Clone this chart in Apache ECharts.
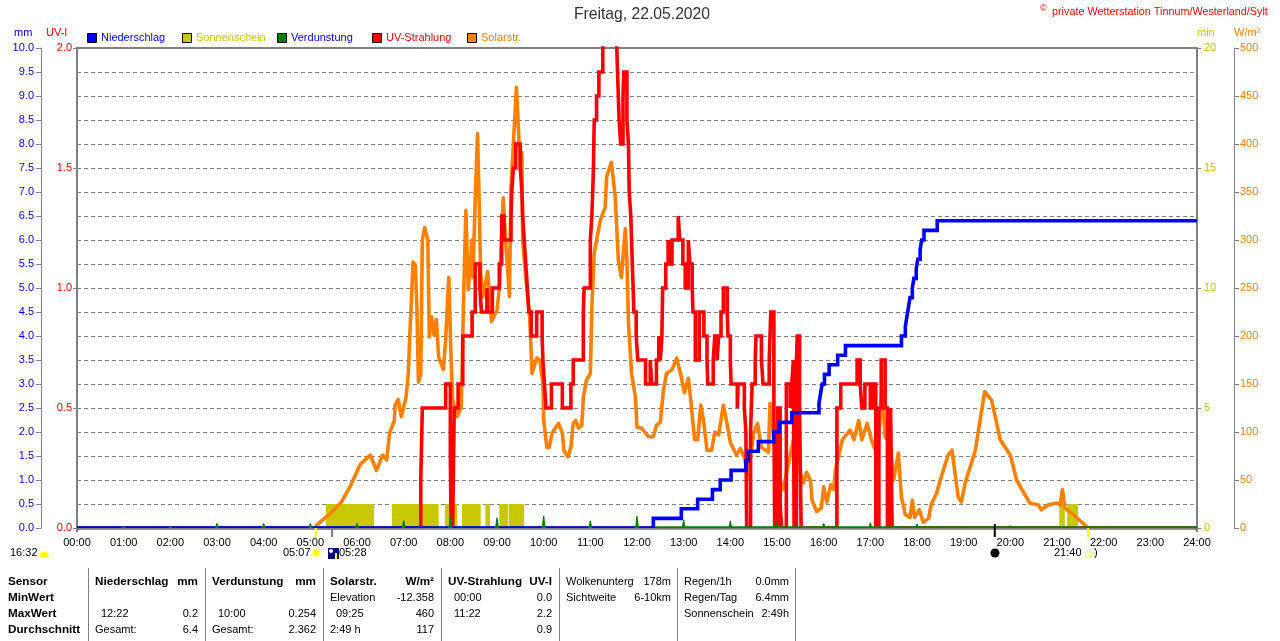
<!DOCTYPE html>
<html><head><meta charset="utf-8">
<style>html,body{margin:0;padding:0;background:#fff;overflow:hidden}#c{width:1280px;height:641px}</style>
<script src="https://cdn.jsdelivr.net/npm/echarts@6/dist/echarts.min.js"></script>
</head><body><div id="c"></div>
<script>
const solarMin=[307,308,327,340,351,364,377,385,393,398,402,408,409,413,417,423,426,428,430,432,435,437,439,442,444,447,451,453,456,459,462,465,471,474,478,481,483,489,494,497,500,503,508,509,512,515,517,519,522,528,533,540,543,548,551,556,558,565,570,572,573,577,582,585,591,595,599,600,604,607,611,619,624,626,631,635,638,641,645,649,651,655,660,661,662,665,668,673,679,681,687,692,696,700,705,707,709,713,718,720,726,735,741,745,750,754,758,765,771,777,781,786,790,794,798,802,806,810,816,820,825,831,835,840,848,853,859,862,870,875,880,889,891,900,908,915,921,926,930,934,938,943,945,951,957,960,964,969,973,975,979,984,994,999,1005,1009,1016,1022,1029,1035,1039,1045,1050,1056,1060,1065,1071,1074,1077,1083,1088,1095,1098,1105,1110,1120,1125,1133,1137,1142,1155,1167,1176,1187,1200,1208,1215,1225,1236,1240,1248,1260,1264,1267,1270,1281,1296,1299];
const solarVal=[0,3,16,27,43,66,76,60,76,71,99,112,128,134,116,136,161,203,237,277,274,230,152,161,300,313,300,199,220,201,217,178,165,196,261,175,133,116,126,237,331,248,300,261,342,411,342,266,241,267,215,227,250,344,300,241,355,459,373,391,300,261,220,161,177,175,151,113,84,84,99,109,99,81,74,84,109,112,104,107,136,154,161,196,230,286,300,321,334,366,381,345,279,261,312,279,214,161,136,105,104,95,95,107,110,144,161,165,177,157,141,156,126,92,92,128,109,81,81,100,97,128,112,89,76,83,71,50,99,109,84,79,130,60,40,68,92,116,57,47,58,50,29,17,21,43,27,45,40,60,74,92,102,92,112,92,109,90,76,144,95,89,50,78,32,14,11,29,11,19,6,10,24,36,50,76,81,32,27,47,81,142,133,92,76,50,40,26,24,19,24,26,24,40,21,14,3,0];
const uvMin=[0,442,444,474,480,481,482,483,485,490,496,508,512,518,520,527,528,534,535,543,546,549,558,559,561,564,570,572,573,575,577,579,581,584,591,598,599,601,603,610,624,635,638,651,652,660,662,664,665,668,671,676,678,682,692,694,695,697,699,702,703,707,709,710,712,713,714,716,719,721,731,737,739,745,748,750,752,753,757,760,762,765,773,775,779,782,786,788,791,792,795,800,806,810,811,818,820,823,825,828,831,836,837,840,841,849,850,858,860,861,866,868,872,873,880,882,890,892,896,897,901,904,906,912,917,919,921,922,925,926,929,931,977,982,1003,1007,1009,1013,1020,1023,1027,1031,1034,1039,1042,1046,1048,1440];
const uvVal=[0,0.2,0.5,0.6,0.3,0,0.4,0,0.5,0.6,0.8,0.9,1.1,1.0,0.9,1.0,0.9,1.0,1.0,1.1,1.3,1.2,1.3,1.4,1.5,1.6,1.5,1.4,1.3,1.2,1.1,1.0,0.9,0.8,0.9,0.8,0.7,0.6,0.5,0.6,0.5,0.6,0.7,0.9,1.0,1.2,1.3,1.5,1.7,1.8,1.9,2.0,2.1,2.2,2.1,2.0,1.9,1.7,1.6,1.8,1.9,1.7,1.6,1.4,1.3,1.2,1.1,0.9,0.8,0.7,0.6,0.7,0.6,0.7,0.8,0.7,0.8,1.0,1.1,1.2,1.1,1.2,1.3,1.2,1.1,1.0,1.2,1.1,1.0,0.9,0.7,0.9,0.8,0.7,0.6,0.7,0.8,0.7,0.8,0.9,1.0,0.9,0.8,0.7,0.6,0.5,0.6,0.5,0.4,0,0.4,0.6,0.7,0.8,0.7,0.6,0.7,0.9,0.5,0,0.5,0.1,0,0.6,0.5,0.6,0.7,0,0.7,0.8,0.5,0,0.5,0.6,0.7,0.6,0.5,0.6,0.5,0.6,0,0.5,0.7,0.5,0,0.5,0,0];
const rainMin=[0,741,777,798,817,827,841,860,863,876,896,903,919,954,956,958,961,967,978,988,1060,1065,1067,1069,1071,1074,1076,1079,1081,1084,1086,1089,1106,1440];
const rainVal=[0,0.2,0.4,0.6,0.8,1.0,1.2,1.4,1.6,1.8,2.0,2.2,2.4,2.6,2.8,3.0,3.2,3.4,3.6,3.8,4.0,4.2,4.4,4.6,4.8,5.0,5.2,5.4,5.6,5.8,6.0,6.2,6.4,6.4];
const evapMin=[60,120,180,240,300,360,420,480,540,600,660,720,780,840,900,960,1020,1080,1140,1200,1260];
const evapVal=[0.04,0.04,0.1,0.1,0.1,0.1,0.16,0.23,0.22,0.254,0.15,0.25,0.17,0.15,0.12,0.1,0.11,0.09,0.03,0.05,0.03];
const evapBaseMin=[0,1440];
const evapBaseVal=[0,0];
const sunStart=[320,405,473,495,525,543,555,1263,1273];
const sunEnd=[382,465,489,519,531,554,575,1270,1287];
const sunValue=1;
const dayEvents=[307,328,1180,1300];
const legendNames=["Niederschlag","Sonnenschein","Verdunstung","UV-Strahlung","Solarstr."];
const tableHead=[["Sensor","MinWert","MaxWert","Durchschnitt"]];
const colTitles=["Niederschlag","Verdunstung","Solarstr.","UV-Strahlung"];
const colUnits=["mm","mm","W/m²","UV-I"];
const colLeft=[["","12:22","Gesamt:"],["","10:00","Gesamt:"],["Elevation","09:25","2:49 h"],["00:00","11:22",""]];
const colRight=[["","0.2","6.4"],["","0.254","2.362"],["-12.358","460","117"],["0.0","2.2","0.9"]];
const infoLeft=[["Wolkenunterg","Sichtweite"],["Regen/1h","Regen/Tag","Sonnenschein"]];
const infoRight=[["178m","6-10km"],["0.0mm","6.4mm","2:49h"]];

const FONT='"Liberation Sans",Arial,sans-serif';
const BLUE='#0000FF',OLIVE='#C8C800',GREEN='#008000',RED='#FF0000',ORANGE='#FF8000',GRAY='#808080';
const LW=3.6;
const pad=n=>String(n).padStart(2,'0');
const zip=(a,b)=>a.map((v,i)=>[v,b[i]]);
const sunData=[];sunStart.forEach((s,i)=>{sunData.push([s,0],[s,sunValue],[sunEnd[i],sunValue],[sunEnd[i],0],[sunEnd[i],null]);});

const g=[];
const T=(text,x,y,fill,o={})=>g.push({type:'text',x,y,silent:true,style:{text,fill,font:(o.bold?'bold 11.7px ':(o.size||11)+'px ')+FONT,textAlign:o.align||'left',textVerticalAlign:'middle'}});
T('Freitag, 22.05.2020',642,15,'#333',{size:15.7,align:'center'});
T('©',1040,9,RED,{size:9});
T('private Wetterstation Tinnum/Westerland/Sylt',1052,12,RED,{size:10.8});
T('mm',14,33,BLUE);T('UV-I',46,33,RED);T('min',1197,33,OLIVE);T('W/m²',1234,33,ORANGE);
const legendColors=[BLUE,OLIVE,GREEN,RED,ORANGE],legendText=[BLUE,OLIVE,BLUE,RED,ORANGE];
legendNames.forEach((n,i)=>{const x=87+95*i;
  g.push({type:'rect',silent:true,shape:{x:x+.5,y:33.5,width:9,height:9},style:{fill:legendColors[i],stroke:'#000',lineWidth:1}});
  T(n,x+14,38,legendText[i]);});
// strip under the plot: keeps the zero lines inside the plot area
g.push({type:'rect',silent:true,z:50,shape:{x:79,y:529.5,width:1116,height:4},style:{fill:'#fff'}});
g.push({type:'rect',silent:true,z:50,shape:{x:77,y:528,width:1120,height:1.5},style:{fill:GRAY}});
T('16:32',10,553,'#000');
g.push({type:'sector',silent:true,shape:{cx:44,cy:556,r:4.5,r0:0,startAngle:Math.PI,endAngle:2*Math.PI},style:{fill:'#FFFF00'}});
g.push({type:'rect',silent:true,shape:{x:40,y:556,width:9,height:1},style:{fill:'#FFFF00'}});
T('05:07',283,553,'#000');
g.push({type:'circle',silent:true,shape:{cx:316,cy:553,r:4},style:{fill:'#FFFF00',stroke:'#FFFFA0',lineWidth:2}});
g.push({type:'rect',silent:true,shape:{x:328,y:548,width:11,height:11},style:{fill:'#000080'}});
g.push({type:'circle',silent:true,shape:{cx:331,cy:551,r:2},style:{fill:'#fff'}});
g.push({type:'rect',silent:true,shape:{x:335,y:553,width:2,height:6},style:{fill:'#FFFF00'}});
T('05:28',339,553,'#000');
g.push({type:'circle',silent:true,shape:{cx:995,cy:553,r:4.5},style:{fill:'#000'}});
T('21:40',1054,553,'#000');
g.push({type:'rect',silent:true,shape:{x:1085.5,y:551.5,width:5,height:5},style:{fill:'#fff',stroke:'#FFFF80',lineWidth:1}});
T(')',1094,553,'#000');
[88,205,323,441,559,677,795].forEach(x=>g.push({type:'rect',silent:true,shape:{x,y:568,width:1,height:73},style:{fill:GRAY}}));
const rowY=[582,598,614,630];
tableHead[0].forEach((s,i)=>T(s,8,rowY[i],'#000',{bold:true}));
const cx=[95,212,330,448],cr=[198,316,434,552];
colTitles.forEach((s,i)=>{T(s,cx[i],rowY[0],'#000',{bold:true});T(colUnits[i],cr[i],rowY[0],'#000',{bold:true,align:'right'});
  colLeft[i].forEach((l,r)=>{if(l)T(l,cx[i]+(/^\d\d:/.test(l)?6:0),rowY[r+1],'#000');});
  colRight[i].forEach((l,r)=>{if(l)T(l,cr[i],rowY[r+1],'#000',{align:'right'});});});
const ix=[566,684],ir=[671,789];
infoLeft.forEach((c,i)=>c.forEach((l,r)=>{T(l,ix[i],rowY[r],'#000');T(infoRight[i][r],ir[i],rowY[r],'#000',{align:'right'});}));

const yAx=(pos,offset,max,interval,color,dec,split,margin,tick)=>({type:'value',position:pos,offset,min:0,max,interval,
  axisLine:{show:true,onZero:false,lineStyle:{color:GRAY,width:offset?1:2}},axisTick:{show:true,length:tick,lineStyle:{color:GRAY}},
  axisLabel:{color,fontFamily:FONT,fontSize:11,margin,formatter:v=>v.toFixed(dec)},
  splitLine:{show:split,lineStyle:{color:GRAY,type:[4,3],width:1}}});
const line=(name,data,color,yi,z,extra)=>Object.assign({name,type:'line',data,xAxisIndex:0,yAxisIndex:yi,showSymbol:false,symbol:'none',z,silent:true,clip:true,connectNulls:false,lineStyle:{color,width:LW,join:'miter'}},extra||{});

const chart=echarts.init(document.getElementById('c'),null,{renderer:'canvas'});
chart.setOption({animation:false,backgroundColor:'#fff',
 grid:{left:77,right:83,top:48,bottom:113,show:true,borderColor:GRAY,borderWidth:2,backgroundColor:'transparent'},
 xAxis:{type:'value',min:0,max:1440,interval:60,
   axisLine:{show:false},axisTick:{show:true,length:4,customValues:[0,1440],lineStyle:{color:GRAY,width:2}},
   axisLabel:{color:'#000',fontFamily:FONT,fontSize:11,margin:9,showMinLabel:true,showMaxLabel:true,formatter:v=>pad(v/60)+':00'},
   splitLine:{show:true,lineStyle:{color:GRAY,type:[4,3],width:1}}},
 yAxis:[yAx('left',36,10,0.5,BLUE,1,true,7,5),yAx('left',0,2,0.5,RED,1,false,5,4),yAx('right',0,20,5,OLIVE,0,false,7,4),yAx('right',37,500,50,ORANGE,0,false,6,5)],
 series:[
  line('Sonnenschein',sunData,OLIVE,2,2,{lineStyle:{width:0,color:OLIVE},areaStyle:{color:OLIVE,opacity:1}}),
  line('Solarstr.',zip(solarMin,solarVal),ORANGE,3,3,{lineStyle:{color:ORANGE,width:LW,join:'round'}}),
  line('UV-Strahlung',zip(uvMin,uvVal),RED,1,4,{step:'end'}),
  line('Verdunstung',zip(evapBaseMin,evapBaseVal),GREEN,0,5),
  line('Niederschlag',zip(rainMin,rainVal),BLUE,0,6,{step:'end'}),
  {type:'custom',name:'VerdunstungSpitzen',xAxisIndex:0,yAxisIndex:0,z:7,silent:true,clip:false,data:zip(evapMin,evapVal),
   renderItem:(p,api)=>{const m=api.value(0),v=api.value(1);
     const pts=[[-2.6,0],[-1.6,.5],[-0.8,1],[0.8,1],[1.6,.5],[2.6,0]].map(a=>api.coord([m+a[0],v*a[1]]));
     return {type:'polygon',shape:{points:pts},style:{fill:GREEN}};}},
  {type:'custom',xAxisIndex:0,yAxisIndex:0,z:60,silent:true,clip:false,data:dayEvents.map(m=>[m,0]),
   renderItem:(p,api)=>{const c=api.coord([api.value(0),0]);const i=p.dataIndex;
     const col=['#FFFF00','#808080','#000000','#FFFF00'][i];const top=i===2?-4:0;
     return {type:'rect',shape:{x:c[0]-1,y:c[1]+top,width:2,height:9-top},style:{fill:col}};}}
 ],
 graphic:g});
</script></body></html>
